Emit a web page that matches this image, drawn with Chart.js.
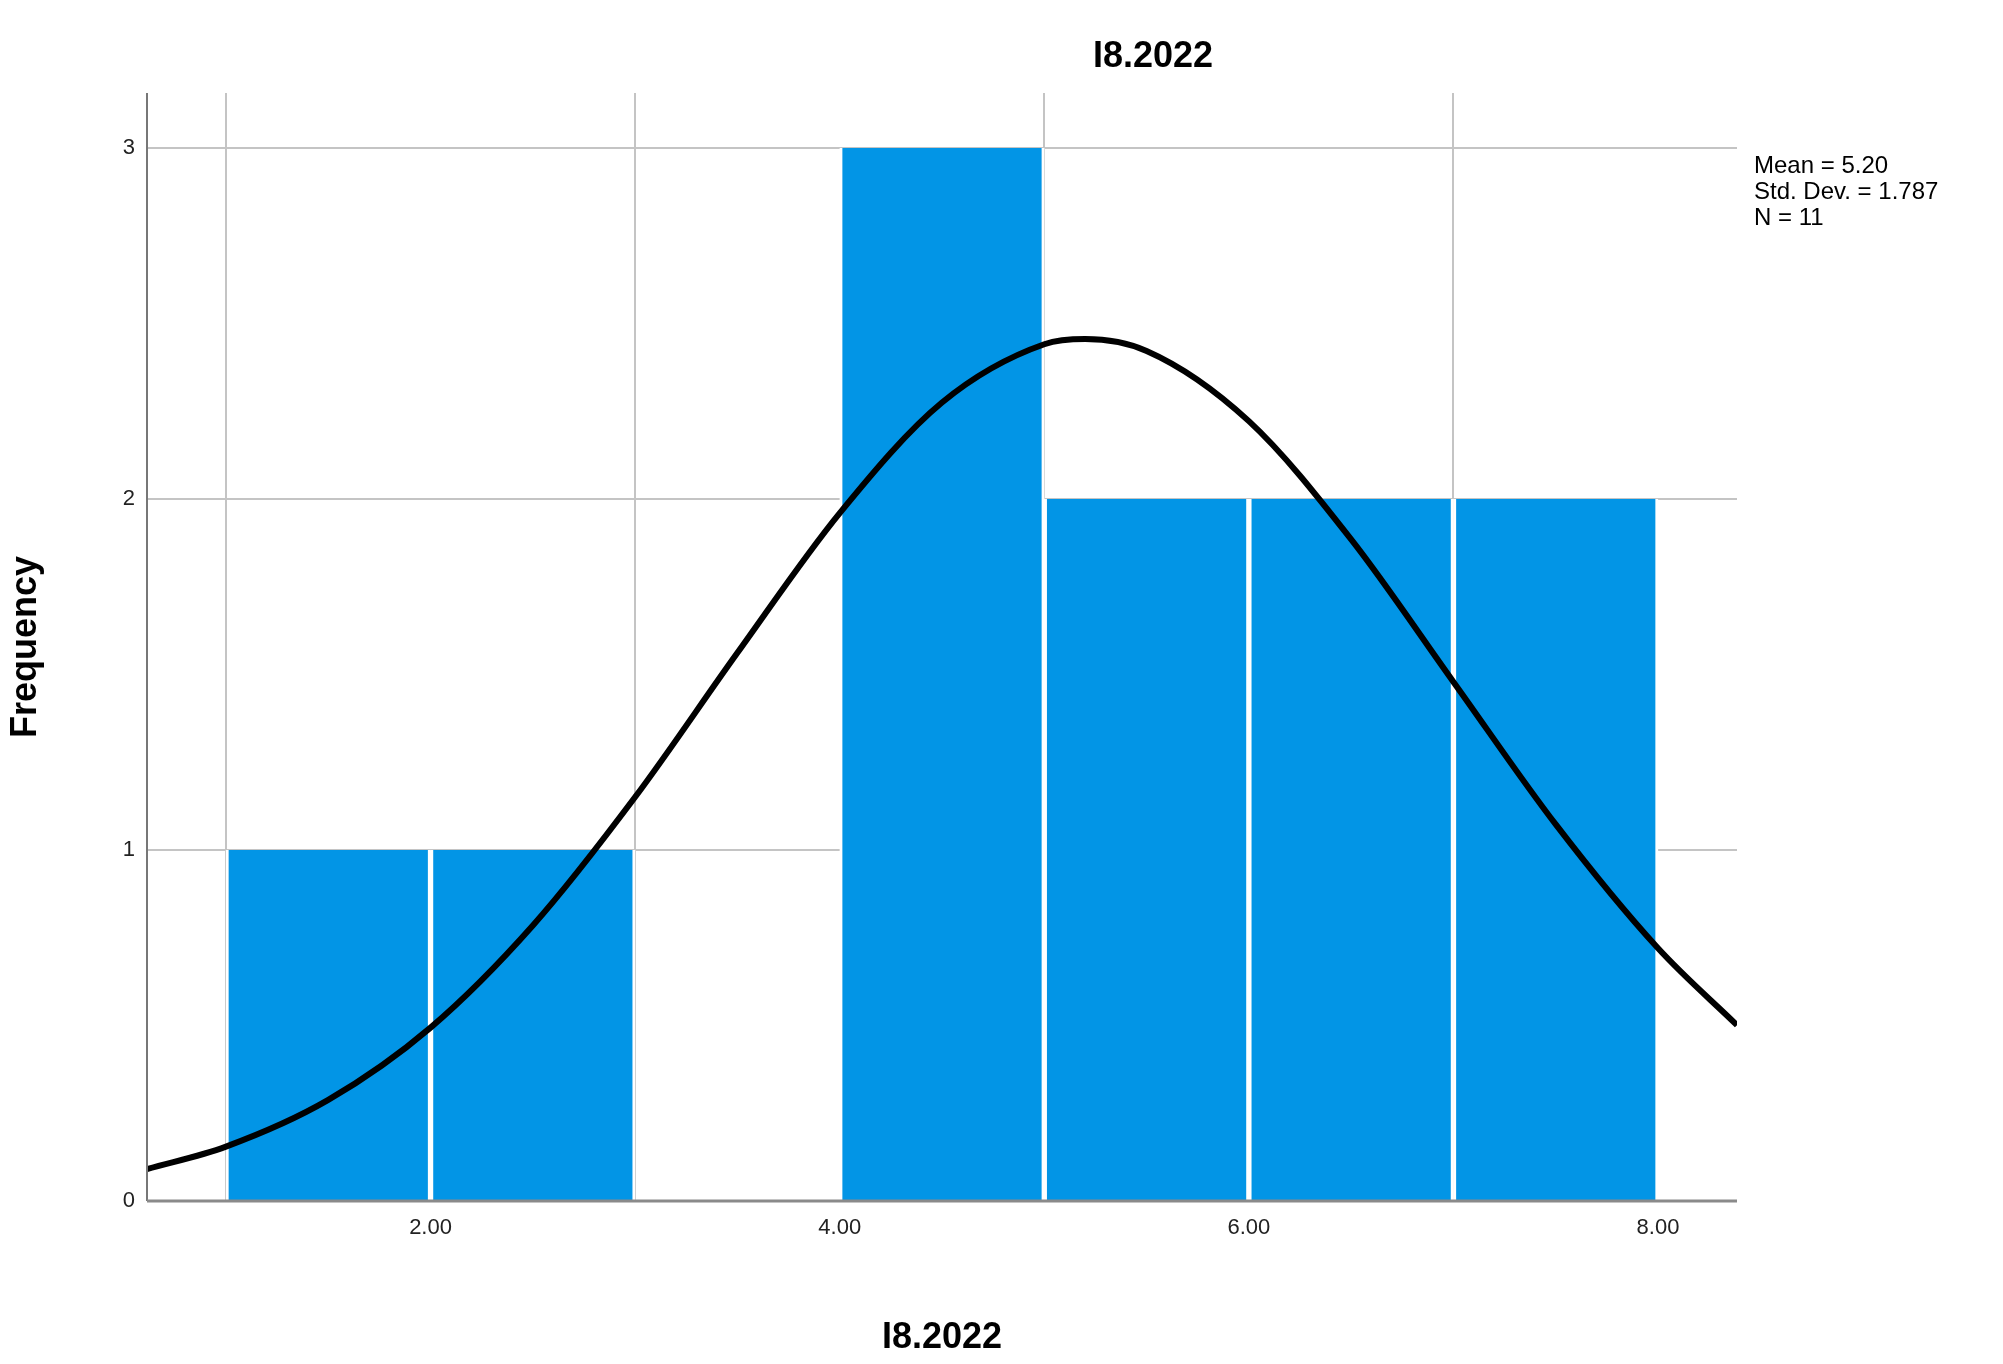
<!DOCTYPE html>
<html><head><meta charset="utf-8">
<script src="https://cdn.jsdelivr.net/npm/chart.js@4"></script>
<style>html,body{margin:0;padding:0;background:#fff}#w{width:2003px;height:1364px}</style>
</head><body><div id="w"><canvas id="c"></canvas></div>
<script>
const binCenters = [1.5, 2.5, 3.5, 4.5, 5.5, 6.5, 7.5];
const frequencies = [1, 1, 0, 3, 2, 2, 2];
const curveX = [0.614, 1, 1.5, 2, 2.5, 3, 3.5, 4, 4.5, 5, 5.2, 5.5, 6, 6.5, 7, 7.5, 8, 8.386];
const curveY = [0.091, 0.155, 0.288, 0.494, 0.785, 1.151, 1.562, 1.960, 2.275, 2.441, 2.456, 2.422, 2.222, 1.885, 1.479, 1.073, 0.720, 0.501];
const xTicks = [2, 4, 6, 8];
const yTicks = [0, 1, 2, 3];
const statsLines = ['Mean = 5.20', 'Std. Dev. = 1.787', 'N = 11'];
const titleText = 'I8.2022';
const FONT = '"Liberation Sans", Arial, sans-serif';

const overlay = {
  id: 'overlay',
  afterDraw(chart) {
    const ctx = chart.ctx, a = chart.chartArea;
    ctx.save();
    ctx.fillStyle = '#000';
    ctx.font = 'bold 36px ' + FONT;
    ctx.textAlign = 'center'; ctx.textBaseline = 'middle';
    ctx.fillText(titleText, 1153, 57);
    ctx.font = '24px ' + FONT;
    ctx.textAlign = 'left'; ctx.textBaseline = 'top';
    statsLines.forEach((s, i) => ctx.fillText(s, 1754, 154 + i * 26));
    ctx.strokeStyle = '#777'; ctx.lineWidth = 2;
    ctx.beginPath(); ctx.moveTo(a.left, a.top); ctx.lineTo(a.left, a.bottom); ctx.stroke();
    ctx.strokeStyle = '#8a8a8a'; ctx.lineWidth = 3;
    ctx.beginPath(); ctx.moveTo(a.left, a.bottom); ctx.lineTo(a.right, a.bottom); ctx.stroke();
    ctx.restore();
  }
};

new Chart(document.getElementById('c'), {
  data: {
    datasets: [
      { type: 'bar', data: binCenters.map((x, i) => ({x, y: frequencies[i]})),
        backgroundColor: '#0295e6', borderColor: '#ffffff', borderWidth: {left: 3, right: 3, top: 0, bottom: 0},
        borderSkipped: false, barPercentage: 1, categoryPercentage: 1, order: 2 },
      { type: 'line', data: curveX.map((x, i) => ({x, y: curveY[i]})),
        borderColor: '#000', borderWidth: 6, pointRadius: 0, tension: 0.4, fill: false, order: 1,
        cubicInterpolationMode: 'monotone' }
    ]
  },
  options: {
    responsive: true, maintainAspectRatio: false, animation: false,
    layout: { padding: { left: 0, right: 266, top: 93, bottom: 0 } },
    plugins: { legend: { display: false }, tooltip: { enabled: false }, title: { display: false } },
    scales: {
      x: { type: 'linear', min: 0.614, max: 8.386, offset: false,
        afterBuildTicks: s => { s.ticks = xTicks.map(v => ({value: v})); },
        afterFit: s => { s.height = 163; },
        grid: { color: '#c4c4c4', lineWidth: 2, drawTicks: false },
        border: { display: false },
        ticks: { padding: 14, color: '#222', font: { size: 22, family: FONT }, callback: v => v.toFixed(2) },
        title: { display: true, text: titleText, color: '#000', font: { size: 36, weight: 'bold', family: FONT }, padding: { top: 36 } } },
      y: { min: 0, max: 3.157,
        afterBuildTicks: s => { s.ticks = yTicks.map(v => ({value: v})); },
        afterFit: s => { s.width = 147; },
        grid: { color: '#c4c4c4', lineWidth: 2, drawTicks: false },
        border: { display: false },
        ticks: { padding: 12, color: '#222', font: { size: 22, family: FONT } },
        title: { display: true, text: 'Frequency', color: '#000', font: { size: 36, weight: 'bold', family: FONT }, padding: { bottom: 28 } } }
    }
  },
  plugins: [overlay]
});
</script></body></html>
